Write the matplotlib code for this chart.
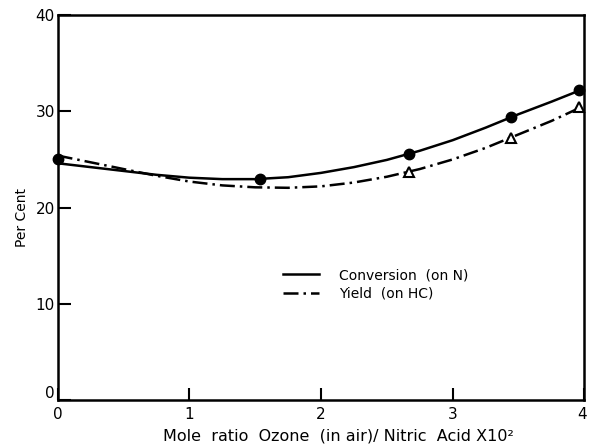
import matplotlib
matplotlib.use("Agg")
import matplotlib.pyplot as plt
import matplotlib.transforms as mtransforms
from matplotlib.lines import Line2D

# measured points
conv_x = [0.0, 1.54, 2.67, 3.44, 3.96]
conv_y = [25.0, 23.0, 25.6, 29.4, 32.2]
yield_x = [2.67, 3.44, 3.96]
yield_y = [23.7, 27.2, 30.4]

# hand-drawn smooth curves
curve_x = [0.0, 0.25, 0.5, 0.75, 1.0, 1.25, 1.5, 1.75, 2.0, 2.25, 2.5, 2.75,
           3.0, 3.25, 3.5, 3.75, 3.97]
conv_curve = [24.6, 24.2, 23.8, 23.4, 23.1, 22.95, 22.95, 23.15, 23.6, 24.2,
              24.95, 25.9, 27.0, 28.3, 29.7, 31.0, 32.2]
yield_curve = [25.4, 24.7, 24.0, 23.3, 22.7, 22.3, 22.1, 22.05, 22.2, 22.6,
               23.2, 24.0, 25.0, 26.2, 27.6, 29.0, 30.4]

xticks = [0, 1, 2, 3, 4]
xticklabels = ["0", "1", "2", "3", "4"]
yticks = [0, 10, 20, 30, 40]
yticklabels = ["0", "10", "20", "30", "40"]

plt.rcParams["font.family"] = "DejaVu Sans"

fig = plt.figure(figsize=(5.91, 4.48), dpi=100)
ax = fig.add_axes([0.0975, 0.107, 0.8915, 0.8595])

dashdot = (0, (6, 2, 1, 2))
ax.plot(curve_x, conv_curve, color="black", lw=1.8, solid_capstyle="round")
ax.plot(curve_x, yield_curve, color="black", lw=1.8, linestyle=dashdot)
ax.plot(conv_x, conv_y, "o", color="black", markersize=7.5, clip_on=False)
ax.plot(yield_x, yield_y, "^", markerfacecolor="white", markeredgecolor="black",
        markeredgewidth=1.5, markersize=7, clip_on=False)

ax.set_xlim(0, 4)
ax.set_ylim(0, 40)
ax.set_xticks(xticks)
ax.set_xticklabels(xticklabels)
ax.set_yticks(yticks)
ax.set_yticklabels(yticklabels)
ax.tick_params(direction="in", length=9, width=1.5, labelsize=11)
ax.tick_params(axis="x", pad=5)
ax.tick_params(axis="y", pad=2)
for s in ax.spines.values():
    s.set_linewidth(1.8)

# y "0" sits a little above the corner, x "4" kept inside the picture
lab0 = ax.get_yticklabels()[0]
lab0.set_transform(lab0.get_transform() +
                   mtransforms.ScaledTranslation(0, 6 / 72, fig.dpi_scale_trans))
lab4 = ax.get_xticklabels()[-1]
lab4.set_transform(lab4.get_transform() +
                   mtransforms.ScaledTranslation(-2 / 72, 0, fig.dpi_scale_trans))

ax.set_xlabel("Mole  ratio  Ozone  (in air)/ Nitric  Acid X10²", fontsize=11.5,
              x=0.532, labelpad=5)
ax.set_ylabel("Per Cent", fontsize=10, y=0.475, labelpad=5)

handles = [Line2D([], [], color="black", lw=1.8),
           Line2D([], [], color="black", lw=1.8, linestyle=dashdot)]
ax.legend(handles, ["Conversion  (on N)", "Yield  (on HC)"], loc="center left",
          bbox_to_anchor=(0.428, 0.30), frameon=False, fontsize=10,
          handlelength=2.6, handletextpad=1.4, labelspacing=0.35,
          borderpad=0, borderaxespad=0)

fig.savefig("out.png", dpi=100)
